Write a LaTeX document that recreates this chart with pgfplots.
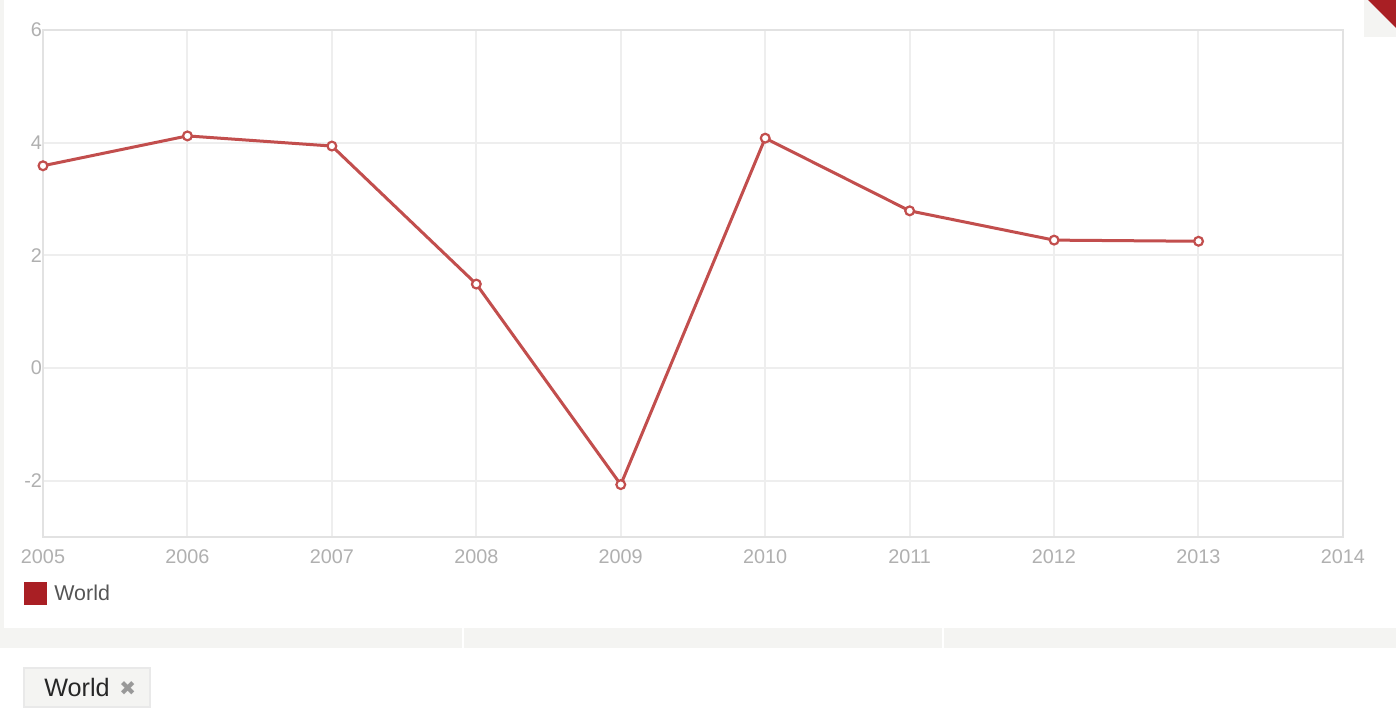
\documentclass[border=0pt]{standalone}
\usepackage{pgfplots}
\pgfplotsset{compat=1.18}
\usepackage{fontspec}
\setmainfont{Liberation Sans}
\newfontfamily\symfont{DejaVu Sans}
\definecolor{lineRed}{HTML}{C24E4D}
\definecolor{keyRed}{HTML}{A91F24}
\definecolor{tickGray}{HTML}{B0B0B0}
\definecolor{gridGray}{HTML}{EEEEEE}
\definecolor{frameGray}{HTML}{E2E2E2}
\definecolor{bandGray}{HTML}{F4F4F2}
\definecolor{textDark}{HTML}{555555}

\begin{document}
\begin{tikzpicture}[x=1pt,y=1pt]
  % page background, 1px = 0.5pt
  \useasboundingbox (0,0) rectangle (698,362);
  \fill[white] (0,0) rectangle (698,362);
  \fill[bandGray] (0,38) rectangle (698,48);
  \fill[bandGray] (0,48) rectangle (2,362);
  \draw[white, line width=0.6pt] (231.5,38) -- (231.5,48);
  \draw[white, line width=0.6pt] (471.5,38) -- (471.5,48);
  % corner tab
  \fill[bandGray] (682,343.5) rectangle (698,362);
  \fill[keyRed] (684,362) -- (698,362) -- (698,348) -- cycle;

  \begin{axis}[
    at={(21.5pt,93.5pt)}, anchor=south west,
    scale only axis,
    width=650pt, height=253.5pt,
    xmin=2005, xmax=2014,
    ymin=-3, ymax=6,
    xtick={2005,...,2014},
    ytick={-2,0,2,4,6},
    xticklabel style={/pgf/number format/1000 sep={}},
    /pgf/number format/assume math mode=true,
    tick style={draw=none},
    ticklabel style={font=\fontsize{9.9}{11}\selectfont, text=tickGray},
    xticklabel style={yshift=-3pt},
    yticklabel style={xshift=3pt},
    grid=major,
    major grid style={gridGray, line width=1pt},
    axis line style={frameGray, line width=1pt},
    legend style={at={(axis description cs:-0.0146,-0.1124)}, anchor=west,
      draw=none, fill=none, inner sep=0pt, column sep=1.5pt,
      font=\fontsize{10.7}{12}\selectfont, text=textDark},
    legend image code/.code={\fill[keyRed] (0pt,-5pt) rectangle (10pt,5pt);},
  ]
    \addplot[lineRed, line width=1.5pt,
      mark=*, mark size=2.2pt,
      mark options={fill=white, draw=lineRed, line width=1.1pt}]
      coordinates {
        (2005,3.59) (2006,4.12) (2007,3.94) (2008,1.49) (2009,-2.07)
        (2010,4.08) (2011,2.79) (2012,2.27) (2013,2.25)
      };
    \legend{World}
  \end{axis}

  % selection button
  \draw[fill=bandGray, draw=frameGray!80!black!30, line width=0.8pt]
    (12,8.5) rectangle (75,28);
  \node[anchor=west, inner sep=0pt, font=\fontsize{12.6}{14}\selectfont, text=black!85]
    at (22,18.3) {World};
  \node[anchor=west, inner sep=0pt, font=\symfont\fontsize{10}{12}\selectfont, text=black!40]
    at (59.5,17.8) {✖};
\end{tikzpicture}
\end{document}
